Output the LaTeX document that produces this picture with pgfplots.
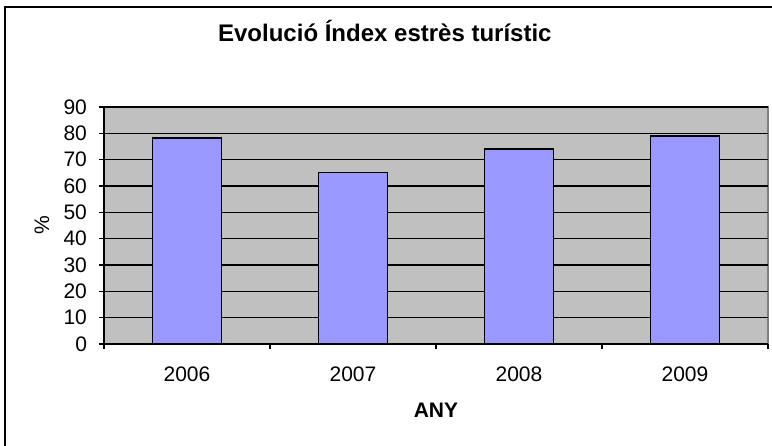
\documentclass[border=0pt]{standalone}
\usepackage{fontspec}
\setmainfont{Liberation Sans}
\usepackage{pgfplots}
\pgfplotsset{compat=1.18}

\definecolor{plotbg}{RGB}{192,192,192}
\definecolor{barfill}{RGB}{153,153,255}
\definecolor{edgegray}{RGB}{128,128,128}

\begin{document}
\begin{tikzpicture}
% page = 772 x 445 px at 0.5pt per px
\useasboundingbox (0,0) rectangle (386pt,222.5pt);
\draw[line width=1pt] (2.5pt,-2pt) -- (2.5pt,219pt) -- (390pt,219pt);
\begin{axis}[
    at={(52pt,50.5pt)}, anchor=south west,
    width=332pt, height=118.5pt, scale only axis,
    ybar, bar width=0.415,
    xmin=-0.5, xmax=3.5,
    ymin=0, ymax=90,
    xtick={0,1,2,3},
    xticklabels={2006,2007,2008,2009},
    major x tick style={draw=none},
    minor xtick={-0.5,0.5,1.5,2.5,3.5},
    minor tick length=2.5pt,
    ytick={0,10,...,90},
    major tick length=2.5pt,
    tick align=outside,
    tick style={black, line width=0.6pt},
    axis x line*=bottom, axis y line*=left,
    axis line style={-, black, line width=0.7pt},
    axis background/.style={fill=plotbg, draw=edgegray, line width=0.8pt},
    ymajorgrids=true,
    grid style={black, line width=0.7pt},
    /pgf/number format/assume math mode=true,
    tick label style={font=\fontsize{10.5}{12}\selectfont},
    yticklabel style={xshift=-2.5pt},
    xticklabel style={yshift=-5.5pt},
    title={Evolució Índex estrès turístic},
    title style={font=\fontsize{12}{14}\selectfont\bfseries, at={(0.423,1)}, anchor=center, yshift=32pt},
    xlabel={ANY},
    xlabel style={font=\fontsize{10.5}{12}\selectfont\bfseries, at={(axis description cs:0.5,0)}, anchor=center, yshift=-33pt},
    ylabel={\%},
    ylabel style={font=\fontsize{10.5}{12}\selectfont, at={(axis description cs:0,0.5)}, anchor=center, yshift=31pt},
]
\addplot[fill=barfill, draw=black, line width=0.8pt] coordinates {(0,78.3) (1,65.2) (2,74.1) (3,79.0)};
\end{axis}
\end{tikzpicture}
\end{document}
